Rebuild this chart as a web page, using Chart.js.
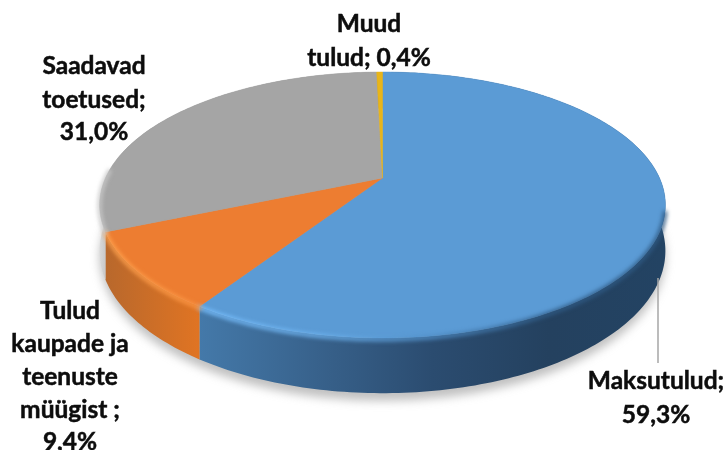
<!DOCTYPE html>
<html><head><meta charset="utf-8">
<style>html,body{margin:0;padding:0;background:#fff}#wrap{width:728px;height:450px}</style>
<script src="https://cdn.jsdelivr.net/npm/chart.js@4"></script>
</head><body><div id="wrap"><canvas id="c" width="728" height="450"></canvas></div>
<script>
const categories = ['Maksutulud', 'Tulud kaupade ja teenuste müügist', 'Saadavad toetused', 'Muud tulud'];
const shares = [59.3, 9.4, 31.0, 0.4];
const topColors = ['#5B9BD5', '#ED7D31', '#A5A5A5', '#E8B51A'];
const sideStops = [
  ['#4479a9', '#38628c', '#2b4c70', '#24415f', '#234363'],
  ['#b8682c', '#e07423'],
  ['#d9d9d9', '#8f8f8f'],
  ['#b98f10', '#b98f10']
];
const rimStops = [
  ['#79c0ff', '#6fb4f0', '#4f8cc4', '#2f5a84', '#2f5a84'],
  ['#ffa34f', '#fb9443'],
  ['#c9c9c9', '#bdbdbd'],
  ['#E8B51A', '#E8B51A']
];
const labelLines = [
  { x: 656, y: [381, 415], t: ['Maksutulud;', '59,3%'] },
  { x: 70, y: [311, 344, 377, 410, 442], t: ['Tulud', 'kaupade ja', 'teenuste', 'müügist ;', '9,4%'] },
  { x: 94, y: [66, 100, 132], t: ['Saadavad', 'toetused;', '31,0%'] },
  { x: 369, y: [24, 58], t: ['Muud', 'tulud; 0,4%'] }
];
const view = { cx: 382.5, cy: 178, a: 277, b: 127.5, k: 0.203, d: 44 };
const leader = { x: 658, y0: 278, y1: 363 };

function proj(theta, depth) {
  const u = Math.sin(theta), v = -Math.cos(theta), w = 1 - view.k * v;
  return [view.cx + view.a * u / w, view.cy + (view.b * v + depth) / w];
}
function rim(ctx, a0, a1, depth, move) {
  const n = Math.max(2, Math.ceil(Math.abs(a1 - a0) / (Math.PI / 180)));
  for (let i = 0; i <= n; i++) {
    const p = proj(a0 + (a1 - a0) * i / n, depth);
    if (i === 0 && move) ctx.moveTo(p[0], p[1]); else ctx.lineTo(p[0], p[1]);
  }
}
function hGrad(ctx, stops, a0, a1) {
  let lo = Infinity, hi = -Infinity;
  for (let i = 0; i <= 40; i++) {
    const th = a0 + (a1 - a0) * i / 40, x = proj(th, 0)[0];
    if (Math.cos(th) < 0.25) { lo = Math.min(lo, x); hi = Math.max(hi, x); }
  }
  if (!isFinite(lo) || hi - lo < 1) { lo = proj(a0, 0)[0] - 1; hi = lo + 2; }
  const g = ctx.createLinearGradient(lo, 0, hi, 0);
  stops.forEach((c, i) => g.addColorStop(stops.length > 1 ? i / (stops.length - 1) : 0, c));
  return g;
}
const pie3d = {
  id: 'pie3d',
  beforeDatasetsDraw(chart) {
    const ctx = chart.ctx, arcs = chart.getDatasetMeta(0).data;
    const ang = arcs.map(e => [e.startAngle + Math.PI / 2, e.endAngle + Math.PI / 2]);
    const full = Math.PI * 2;
    ctx.save();
    // soft shadow under the disc
    ctx.filter = 'blur(5px)';
    ctx.fillStyle = 'rgba(130,130,130,0.5)';
    ctx.beginPath();
    rim(ctx, 0, full, view.d + 6, true);
    ctx.closePath();
    ctx.fill();
    ctx.filter = 'blur(0.6px)';
    // side walls
    ang.forEach((a, i) => {
      ctx.fillStyle = hGrad(ctx, sideStops[i], a[0], a[1]);
      ctx.beginPath();
      rim(ctx, a[0], a[1], 0, true);
      rim(ctx, a[1], a[0], view.d, false);
      ctx.closePath();
      ctx.fill();
    });
    // top faces
    ang.forEach((a, i) => {
      ctx.fillStyle = topColors[i];
      ctx.strokeStyle = topColors[i];
      ctx.lineWidth = 0.5;
      ctx.beginPath();
      ctx.moveTo(view.cx, view.cy);
      rim(ctx, a[0], a[1], 0, false);
      ctx.closePath();
      ctx.fill();
      ctx.stroke();
    });
    // bevel along the rim
    ctx.filter = 'blur(2px)';
    ctx.lineWidth = 4;
    ctx.lineCap = 'round';
    ang.forEach((a, i) => {
      if (i === 3) return;
      const lo = Math.max(a[0], i === 0 ? Math.PI * 0.58 : a[0]);
      const hi = i === 2 ? Math.min(a[1], Math.PI * 1.52) : a[1];
      ctx.strokeStyle = hGrad(ctx, rimStops[i], a[0], a[1]);
      ctx.beginPath();
      rim(ctx, lo, hi, 1, true);
      ctx.stroke();
    });
    ctx.filter = 'none';
    ctx.restore();
    return false;
  },
  afterDraw(chart) {
    const ctx = chart.ctx;
    ctx.save();
    ctx.strokeStyle = '#a6a6a6';
    ctx.lineWidth = 1.5;
    ctx.beginPath();
    ctx.moveTo(leader.x, leader.y0);
    ctx.lineTo(leader.x, leader.y1);
    ctx.stroke();
    ctx.fillStyle = '#0d0d0d';
    ctx.strokeStyle = '#0d0d0d';
    ctx.lineWidth = 0.5;
    ctx.font = 'bold 24.5px Lato';
    ctx.textAlign = 'center';
    ctx.textBaseline = 'middle';
    labelLines.forEach(l => l.t.forEach((s, i) => {
      ctx.fillText(s, l.x, l.y[i]);
      ctx.strokeText(s, l.x, l.y[i]);
    }));
    ctx.restore();
  }
};
new Chart(document.getElementById('c'), {
  type: 'pie',
  data: { labels: categories, datasets: [{ data: shares, backgroundColor: topColors, borderWidth: 0 }] },
  options: {
    responsive: false,
    animation: false,
    plugins: { legend: { display: false }, tooltip: { enabled: false } }
  },
  plugins: [pie3d]
});
</script></body></html>
